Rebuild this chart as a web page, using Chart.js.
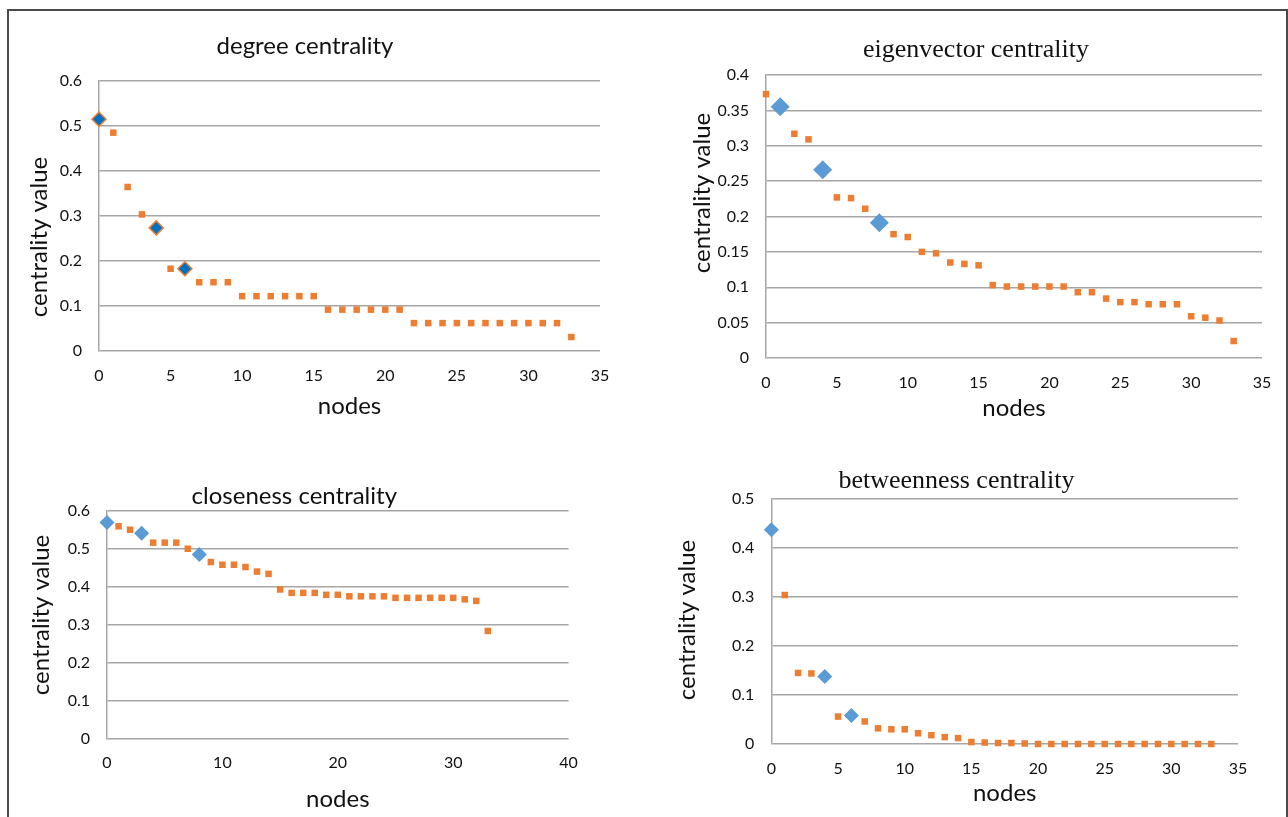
<!DOCTYPE html>
<html>
<head>
<meta charset="utf-8">
<title>centrality measures</title>
<script src="https://cdn.jsdelivr.net/npm/chart.js@4.4.1/dist/chart.umd.min.js"></script>
<style>
  html, body { margin: 0; padding: 0; background: #fff; overflow: hidden; }
  body { width: 1288px; height: 817px; position: relative; }
  #frame { position: absolute; left: 7px; top: 9px; width: 1277px; height: 840px; border: 2px solid #4a4a4a; }
  canvas { position: absolute; }
</style>
</head>
<body>
<div id="frame"></div>
<canvas id="degreeChart"></canvas>
<canvas id="eigenChart"></canvas>
<canvas id="closenessChart"></canvas>
<canvas id="betweenChart"></canvas>
<script>
// -------------------------
// Data
// -------------------------
const nodes = [0, 1, 2, 3, 4, 5, 6, 7, 8, 9, 10, 11, 12, 13, 14, 15, 16,
               17, 18, 19, 20, 21, 22, 23, 24, 25, 26, 27, 28, 29, 30, 31, 32, 33];

const degree = [0.515, 0.485, 0.364, 0.303, 0.273, 0.182, 0.182, 0.152, 0.152, 0.152,
                0.121, 0.121, 0.121, 0.121, 0.121, 0.121,
                0.091, 0.091, 0.091, 0.091, 0.091, 0.091,
                0.061, 0.061, 0.061, 0.061, 0.061, 0.061, 0.061, 0.061, 0.061, 0.061, 0.061,
                0.030];

const eigenvector = [0.373, 0.355, 0.317, 0.309, 0.266, 0.227, 0.226, 0.211, 0.191, 0.175,
                     0.171, 0.150, 0.148, 0.135, 0.133, 0.131, 0.103, 0.101, 0.101, 0.101,
                     0.101, 0.101, 0.093, 0.093, 0.084, 0.079, 0.079, 0.076, 0.076, 0.076,
                     0.059, 0.057, 0.053, 0.024];

const closeness = [0.569, 0.559, 0.550, 0.541, 0.516, 0.516, 0.516, 0.500, 0.485, 0.465,
                   0.458, 0.458, 0.452, 0.440, 0.434, 0.393, 0.384, 0.384, 0.384, 0.379,
                   0.379, 0.375, 0.375, 0.375, 0.375, 0.371, 0.371, 0.371, 0.371, 0.371,
                   0.371, 0.367, 0.363, 0.284];

const betweenness = [0.437, 0.304, 0.145, 0.144, 0.138, 0.056, 0.058, 0.046, 0.032, 0.030,
                     0.030, 0.022, 0.018, 0.014, 0.012, 0.004, 0.003, 0.002, 0.002, 0.001,
                     0, 0, 0, 0, 0, 0, 0, 0, 0, 0, 0, 0, 0, 0];

// highlighted nodes (blue diamonds)
const degreeTop = [0, 4, 6];
const eigenTop = [1, 4, 8];
const closenessTop = [0, 3, 8];
const betweenTop = [0, 4, 6];

// axis ranges: [max, step]
const degreeX = [35, 5];      const degreeY = [0.6, 0.1];
const eigenX = [35, 5];       const eigenY = [0.4, 0.05];
const closenessX = [40, 10];  const closenessY = [0.6, 0.1];
const betweenX = [35, 5];     const betweenY = [0.5, 0.1];

// -------------------------
// Styles
// -------------------------
const ORANGE = '#ED7D31';
const BLUE = '#5B9BD5';
const DARK_BLUE = '#0070C0';
const GRID = '#a6a6a6';
const TEXT = '#111';
const SANS = 'Lato, "Open Sans", sans-serif';
const SERIF = '"Liberation Serif", "Times New Roman", serif';

// y axis title drawn freely so it can sit off-centre like the original
const yTitlePlugin = {
    id: 'yTitle',
    afterDraw(chart, args, o) {
        const ctx = chart.ctx;
        ctx.save();
        ctx.translate(o.x, o.y);
        ctx.rotate(-Math.PI / 2);
        ctx.font = '24px ' + SANS;
        ctx.fillStyle = TEXT;
        ctx.textAlign = 'center';
        ctx.textBaseline = 'middle';
        ctx.fillText(o.text, 0, 0);
        ctx.restore();
    }
};

function allPoints(values) {
    return values.map((v, i) => ({ x: nodes[i], y: v }));
}
function pick(values, idx) {
    return idx.map(i => ({ x: nodes[i], y: values[i] }));
}

function drawPanel(id, box, p) {
    const canvas = document.getElementById(id);
    canvas.width = box.w;
    canvas.height = box.h;
    canvas.style.left = box.x + 'px';
    canvas.style.top = box.y + 'px';

    new Chart(canvas, {
        type: 'scatter',
        data: {
            datasets: [
                {
                    data: pick(p.values, p.top),
                    clip: false,
                    pointStyle: 'rectRot',
                    pointRadius: p.diamond,
                    backgroundColor: p.diamondFill,
                    borderColor: p.diamondEdge,
                    borderWidth: p.diamondEdgeWidth
                },
                {
                    data: allPoints(p.values),
                    clip: false,
                    pointStyle: 'rect',
                    pointRadius: 4.6,
                    backgroundColor: ORANGE,
                    borderWidth: 0
                }
            ]
        },
        options: {
            responsive: false,
            animation: false,
            events: [],
            layout: { padding: { right: box.padRight } },
            plugins: {
                legend: { display: false },
                tooltip: { enabled: false },
                title: {
                    display: true,
                    text: p.title,
                    color: TEXT,
                    font: { family: p.titleFont, size: p.titleSize, weight: 'normal', lineHeight: 1.2 },
                    padding: { top: box.titleTop, bottom: box.titleBottom }
                },
                yTitle: { text: 'centrality value', x: box.yTitleX, y: box.yTitleY }
            },
            scales: {
                x: {
                    type: 'linear',
                    min: 0,
                    max: p.xAxis[0],
                    ticks: { stepSize: p.xAxis[1], padding: box.xTickPad, color: TEXT, font: { family: SANS, size: 16 } },
                    grid: { display: false, drawTicks: false },
                    border: { display: false },
                    title: {
                        display: true,
                        text: 'nodes',
                        color: TEXT,
                        font: { family: SANS, size: 24, lineHeight: 1 },
                        padding: { top: 0, bottom: box.xTitlePad }
                    },
                    afterFit: s => { s.height = box.xH; }
                },
                y: {
                    min: 0,
                    max: p.yAxis[0],
                    ticks: {
                        stepSize: p.yAxis[1],
                        padding: 17,
                        color: TEXT,
                        font: { family: SANS, size: 16 },
                        callback: v => String(+v.toFixed(2))
                    },
                    grid: { color: GRID, lineWidth: 1.5, drawTicks: false },
                    border: { display: true, color: GRID, width: 1.5 },
                    afterFit: s => { s.width = box.yW; }
                }
            }
        },
        plugins: [yTitlePlugin]
    });
}

// -------------------------
// Panels
// -------------------------
drawPanel('degreeChart',
    { x: 10, y: 15, w: 709, h: 410, yW: 89, xH: 74.5, padRight: 119,
      titleTop: 17.3, titleBottom: 19.9, xTickPad: 16, xTitlePad: 7, yTitleX: 29, yTitleY: 222 },
    { title: 'degree centrality', titleFont: SANS, titleSize: 24, values: degree, top: degreeTop,
      xAxis: degreeX, yAxis: degreeY, diamond: 7, diamondFill: DARK_BLUE, diamondEdge: ORANGE, diamondEdgeWidth: 1.5 });

drawPanel('eigenChart',
    { x: 690, y: 10, w: 600, h: 418, yW: 76, xH: 70, padRight: 28,
      titleTop: 24.4, titleBottom: 9.4, xTickPad: 15, xTitlePad: 8, yTitleX: 12, yTitleY: 183 },
    { title: 'eigenvector centrality', titleFont: SERIF, titleSize: 26, values: eigenvector, top: eigenTop,
      xAxis: eigenX, yAxis: eigenY, diamond: 9.5, diamondFill: BLUE, diamondEdge: BLUE, diamondEdgeWidth: 0 });

drawPanel('closenessChart',
    { x: 20, y: 440, w: 628, h: 377, yW: 87, xH: 78, padRight: 79.4,
      titleTop: 41.9, titleBottom: 0, xTickPad: 14.5, xTitlePad: 6, yTitleX: 21, yTitleY: 175 },
    { title: 'closeness centrality', titleFont: SANS, titleSize: 24, values: closeness, top: closenessTop,
      xAxis: closenessX, yAxis: closenessY, diamond: 7.5, diamondFill: BLUE, diamondEdge: BLUE, diamondEdgeWidth: 0 });

drawPanel('betweenChart',
    { x: 675, y: 440, w: 620, h: 372, yW: 96.4, xH: 68, padRight: 57,
      titleTop: 25.4, titleBottom: 2.4, xTickPad: 15, xTitlePad: 7, yTitleX: 12.5, yTitleY: 180 },
    { title: 'betweenness centrality', titleFont: SERIF, titleSize: 26, values: betweenness, top: betweenTop,
      xAxis: betweenX, yAxis: betweenY, diamond: 7.5, diamondFill: BLUE, diamondEdge: BLUE, diamondEdgeWidth: 0 });
</script>
</body>
</html>
